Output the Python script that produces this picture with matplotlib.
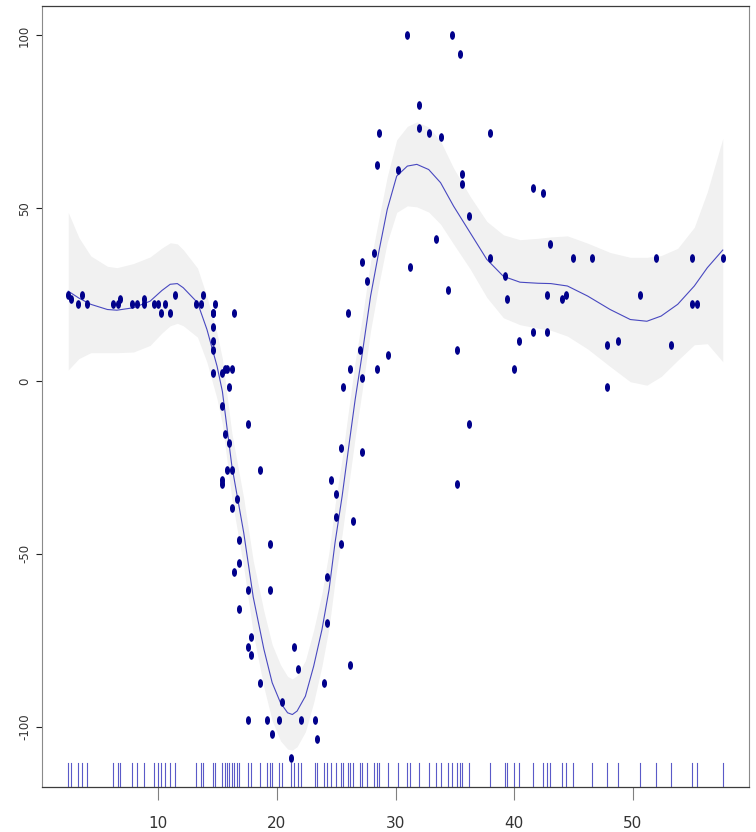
import numpy as np
import matplotlib
matplotlib.use("Agg")
import matplotlib.pyplot as plt
from matplotlib.path import Path
from matplotlib.transforms import Affine2D
import matplotlib.transforms as mtransforms

# 시간(ms)과 가속도 관측값
times = [2.4, 2.6, 3.2, 3.6, 4.0, 6.2, 6.6, 6.8, 7.8, 8.2, 8.8, 8.8, 9.6, 10.0, 10.2, 10.6, 11.0, 11.4,
         13.2, 13.6, 13.8, 14.6, 14.6, 14.6, 14.6, 14.6, 14.6, 14.8, 15.4, 15.4, 15.4, 15.4, 15.6, 15.6,
         15.8, 15.8, 16.0, 16.0, 16.2, 16.2, 16.2, 16.4, 16.4, 16.6, 16.8, 16.8, 16.8, 17.6, 17.6, 17.6,
         17.6, 17.8, 17.8, 18.6, 18.6, 19.2, 19.4, 19.4, 19.6, 20.2, 20.4, 21.2, 21.4, 21.8, 22.0, 23.2,
         23.4, 24.0, 24.2, 24.2, 24.6, 25.0, 25.0, 25.4, 25.4, 25.6, 26.0, 26.2, 26.2, 26.4, 27.0, 27.2,
         27.2, 27.2, 27.6, 28.2, 28.4, 28.4, 28.6, 29.4, 30.2, 31.0, 31.2, 32.0, 32.0, 32.8, 33.4, 33.8,
         34.4, 34.8, 35.2, 35.2, 35.4, 35.6, 35.6, 36.2, 36.2, 38.0, 38.0, 39.2, 39.4, 40.0, 40.4, 41.6,
         41.6, 42.4, 42.8, 42.8, 43.0, 44.0, 44.4, 45.0, 46.6, 47.8, 47.8, 48.8, 50.6, 52.0, 53.2, 55.0,
         55.0, 55.4, 57.6]
accel = [25.0, 23.7, 22.3, 25.0, 22.3, 22.3, 22.3, 23.7, 22.3, 22.3, 23.7, 22.3, 22.3, 22.3, 19.6, 22.3,
         19.6, 25.0, 22.3, 22.3, 25.0, 11.7, 19.6, 19.6, 15.7, 9.0, 2.2, 22.3, 2.2, -7.1, -28.5, -29.9,
         -15.2, 3.5, 3.5, -25.8, -17.9, -1.8, 3.5, -25.8, -36.7, 19.6, -55.4, -34.0, -46.0, -66.1, -52.7,
         -12.5, -60.6, -98.1, -76.9, -74.1, -79.4, -87.5, -25.8, -98.1, -60.6, -47.3, -102.2, -98.1, -92.9,
         -109.0, -76.9, -83.4, -98.1, -98.1, -103.5, -87.5, -70.1, -56.8, -28.5, -39.4, -32.6, -47.3, -19.3,
         -1.8, 19.6, -82.1, 3.5, -40.6, 9.0, -20.6, 0.8, 34.5, 29.0, 37.0, 3.5, 62.5, 71.9, 7.6, 61.2,
         100.0, 33.1, 79.9, 73.2, 71.9, 41.0, 70.6, 26.3, 100.0, 9.0, -29.9, 94.6, 59.8, 57.1, -12.5, 47.8,
         71.9, 35.7, 30.4, 23.7, 3.5, 11.7, 55.8, 14.3, 54.4, 25.0, 14.3, 39.7, 23.7, 25.0, 35.7, 35.7,
         -1.8, 10.3, 11.7, 25.0, 35.7, 10.3, 22.3, 35.7, 22.3, 35.7]

# 평활 곡선(적합값)과 신뢰구간 반폭
fit_x = [2.4, 3.3, 4.3, 5.7, 6.5, 7.9, 9.3, 10.3, 11.0, 11.6, 12.1, 13.3, 14.1, 14.95, 15.4, 16.2,
         17.2, 18.0, 18.9, 19.6, 20.3, 20.9, 21.3, 21.7, 22.4, 23.1, 23.8, 24.4, 24.9, 25.5, 26.1, 26.6,
         27.2, 27.9, 28.6, 29.3, 30.1, 31.0, 31.8, 32.8, 33.8, 34.9, 36.3, 37.7, 39.1, 40.5, 42.0, 43.1,
         44.5, 46.2, 48.1, 49.8, 51.2, 52.4, 53.8, 55.2, 56.3, 57.6]
fit_y = [26.0, 24.0, 22.2, 20.7, 20.5, 21.2, 23.1, 26.2, 28.0, 28.2, 27.0, 22.7, 14.9, 4.3, -3.0, -24.6,
         -43.9, -62.5, -77.6, -87.3, -93.1, -96.0, -96.5, -95.5, -91.2, -82.5, -71.9, -60.3, -46.8, -33.3,
         -17.9, -5.3, 8.0, 24.6, 37.5, 49.6, 59.3, 62.2, 62.7, 61.2, 57.4, 50.6, 42.9, 35.2, 30.3, 28.6,
         28.3, 28.2, 27.5, 24.6, 20.7, 17.8, 17.3, 18.8, 22.2, 27.5, 32.8, 37.9]
fit_se = [22.8, 17.5, 14.0, 12.5, 12.3, 12.8, 12.8, 12.3, 12.0, 11.5, 11.0, 10.0, 9.5, 9.5, 9.5, 9.5,
          10.0, 10.5, 11.0, 11.0, 11.0, 10.5, 10.3, 10.3, 10.3, 10.5, 10.5, 11.0, 11.0, 11.0, 11.0, 11.0,
          10.5, 10.0, 9.5, 9.5, 10.5, 11.5, 12.3, 12.3, 12.0, 11.0, 10.5, 11.0, 12.0, 12.3, 13.0, 13.5,
          14.5, 15.3, 16.5, 18.0, 18.5, 17.5, 16.2, 17.0, 22.0, 32.3]

xticks = [10, 20, 30, 40, 50]
yticks = [-100, -50, 0, 50, 100]

fig = plt.figure(figsize=(7.56, 8.32), dpi=100)
ax = fig.add_axes([0.0556, 0.0544, 0.9351, 0.9387])

fx = np.array(fit_x)
fy = np.array(fit_y)
fs = np.array(fit_se)
ax.fill_between(fx, fy - fs, fy + fs, color="#f1f1f1", lw=0, zorder=1)
ax.plot(fx, fy, color="#4848c0", lw=0.8, zorder=2)

# 세로로 긴 타원 점
ell = Path.unit_circle().transformed(Affine2D().scale(0.5, 1.0))
ax.plot(times, accel, ls="none", marker=ell, ms=5.2, color="#00008b", mec="#00008b", zorder=3)

# 하단 rug
trans = mtransforms.blended_transform_factory(ax.transData, ax.transAxes)
for t in sorted(set(times)):
    ax.plot([t, t], [0, 0.03], color="#5a5ac8", lw=0.8, transform=trans, zorder=2)

ax.set_xlim(0.19, 59.81)
ax.set_ylim(-117.4, 108.6)
ax.set_xticks(xticks)
ax.set_yticks(yticks)
ax.set_xticklabels([str(v) for v in xticks], family=["Liberation Sans Narrow", "DejaVu Sans"],
                   fontsize=11, color="#333333")
ax.set_yticklabels([str(v) for v in yticks], fontsize=8.5, color="#333333",
                   rotation=90, va="center")
ax.tick_params(axis="x", length=9, width=0.8, color="#808080", pad=12)
ax.tick_params(axis="y", length=4, width=0.8, color="#222222", pad=4)

for side in ["left", "right"]:
    ax.spines[side].set_color("#8a8a8a")
    ax.spines[side].set_linewidth(0.8)
for side in ["top", "bottom"]:
    ax.spines[side].set_color("#3c3c3c")
    ax.spines[side].set_linewidth(0.9)

fig.savefig("out.png", dpi=100)
